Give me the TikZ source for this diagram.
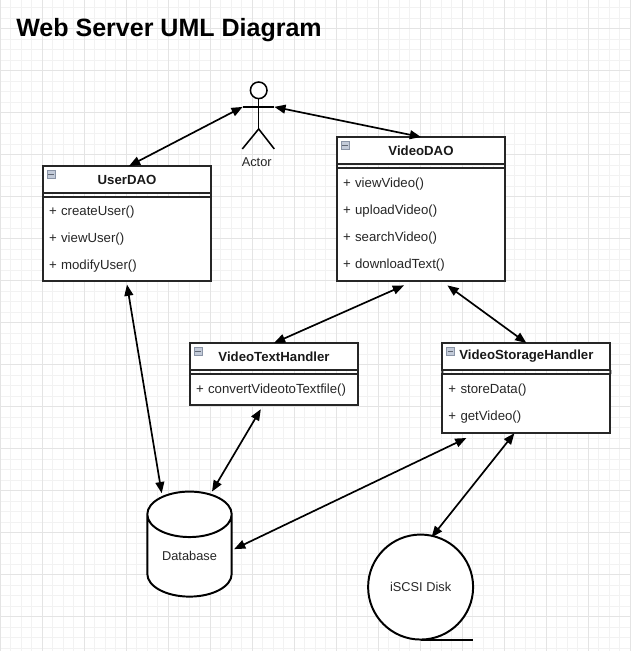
\documentclass[tikz,border=0pt]{standalone}
\usepackage{fontspec}
\setmainfont{Liberation Sans}
\usetikzlibrary{shapes.geometric, arrows.meta, positioning, calc}
\definecolor{gridminor}{HTML}{F2F2F2}
\definecolor{gridmajor}{HTML}{E4E4E4}
\definecolor{iconfill}{HTML}{C3CBD9}
\definecolor{iconline}{HTML}{8A94A6}
\tikzstyle{header} = [rectangle, draw=black!85, line width=1.4pt, outer sep=0pt, fill=white, text=black!90, text centered, minimum width=4.2cm, minimum height=0.675cm, inner ysep=0pt, font=\fontsize{9.4}{11}\selectfont\bfseries]
\tikzstyle{methods} = [rectangle, draw=black!85, line width=1.4pt, outer sep=0pt, fill=white, text=black!85, align=left, text width=3.9cm, inner xsep=0.15cm, inner ysep=0pt, font=\fontsize{9.4}{19.2}\selectfont]
\tikzstyle{icon} = [rectangle, draw=iconline, line width=0.5pt, fill=iconfill, minimum size=0.2cm, inner sep=0pt]
\tikzstyle{caption} = [text=black!85, font=\fontsize{9.1}{11}\selectfont, inner sep=0pt]
\tikzstyle{link} = [line width=1.2pt, <->, >={Triangle[length=0.28cm,width=0.22cm]}, black]
\tikzstyle{stick} = [line width=1.1pt, black]

\begin{document}
\begin{tikzpicture}
	\useasboundingbox (0,0) rectangle (15.775,-16.275);

	% Grid paper
	\draw[gridminor, line width=0.6pt, step=0.2625, shift={(0.0075,-0.7175)}] (-0.0075,0.7175) grid (15.7675,-15.5575);
	\draw[gridmajor, line width=0.6pt, step=1.05, shift={(0.0075,-0.7175)}] (-0.0075,0.7175) grid (15.7675,-15.5575);

	% Title
	\node (title) [anchor=west, inner sep=0pt, font=\fontsize{17.8}{20}\selectfont\bfseries] at (0.4,-0.75) {Web Server UML Diagram};

	% Class boxes
	\node (videodao) [header] at (10.525,-3.7625) {VideoDAO};
	\node (videodao_methods) [methods, below=0.1cm of videodao, minimum height=2.835cm] {+ viewVideo()\\+ uploadVideo()\\+ searchVideo()\\+ downloadText()};
	\node (userdao) [header, below left=0.05cm and 3.15cm of videodao] {UserDAO};
	\node (userdao_methods) [methods, below=0.1cm of userdao, minimum height=2.11cm] {+ createUser()\\+ viewUser()\\+ modifyUser()};
	\node (texthandler) [header, below right=1.54cm and -0.525cm of userdao_methods] {VideoTextHandler};
	\node (texthandler_methods) [methods, below=0.1cm of texthandler, minimum height=0.78cm] {+ convertVideotoTextfile()};
	\node (storage) [header, right=2.11cm of texthandler] {VideoStorageHandler};
	\node (storage_methods) [methods, below=0.1cm of storage, minimum height=1.48cm] {+ storeData()\\+ getVideo()};

	% Double line sides
	\draw[line width=1.4pt, black!85] (videodao.south west) -- (videodao_methods.north west);
	\draw[line width=1.4pt, black!85] (videodao.south east) -- (videodao_methods.north east);
	\draw[line width=1.4pt, black!85] (userdao.south west) -- (userdao_methods.north west);
	\draw[line width=1.4pt, black!85] (userdao.south east) -- (userdao_methods.north east);
	\draw[line width=1.4pt, black!85] (texthandler.south west) -- (texthandler_methods.north west);
	\draw[line width=1.4pt, black!85] (texthandler.south east) -- (texthandler_methods.north east);
	\draw[line width=1.4pt, black!85] (storage.south west) -- (storage_methods.north west);
	\draw[line width=1.4pt, black!85] (storage.south east) -- (storage_methods.north east);

	% Collapse icons
	\node (videodao_icon) [icon, below right=0.1cm and 0.09cm of videodao.north west] {};
	\node (userdao_icon) [icon, below right=0.1cm and 0.09cm of userdao.north west] {};
	\node (texthandler_icon) [icon, below right=0.1cm and 0.09cm of texthandler.north west] {};
	\node (storage_icon) [icon, below right=0.1cm and 0.09cm of storage.north west] {};
	\draw[iconline!70!black, line width=0.7pt] ([xshift=0.04cm]videodao_icon.west) -- ([xshift=-0.04cm]videodao_icon.east);
	\draw[iconline!70!black, line width=0.7pt] ([xshift=0.04cm]userdao_icon.west) -- ([xshift=-0.04cm]userdao_icon.east);
	\draw[iconline!70!black, line width=0.7pt] ([xshift=0.04cm]texthandler_icon.west) -- ([xshift=-0.04cm]texthandler_icon.east);
	\draw[iconline!70!black, line width=0.7pt] ([xshift=0.04cm]storage_icon.west) -- ([xshift=-0.04cm]storage_icon.east);

	% Actor
	\node (actor_head) [circle, draw, line width=1.1pt, fill=white, minimum size=0.415cm, inner sep=0pt] at (6.4675,-2.2575) {};
	\coordinate (actor_left) at ($(actor_head.south)+(-0.4,-0.1875)$);
	\coordinate (actor_right) at ($(actor_head.south)+(0.39,-0.1875)$);
	\coordinate (actor_hip) at ($(actor_head.south)+(0,-0.74)$);
	\coordinate (actor_footl) at ($(actor_hip)+(-0.41,-0.5)$);
	\coordinate (actor_footr) at ($(actor_hip)+(0.39,-0.5)$);
	\draw[stick] (actor_head) -- (actor_hip);
	\draw[stick] (actor_left) -- (actor_right);
	\draw[stick] (actor_footl) -- (actor_hip) -- (actor_footr);
	\node (actor) [caption, below=0.2cm of actor_hip, yshift=-0.5cm, xshift=-0.05cm] {Actor};

	% Database and disk
	\node (database) [cylinder, shape border rotate=90, draw, line width=1.4pt, fill=white, aspect=0.83, minimum width=2.11cm, minimum height=2.625cm, outer sep=0pt, inner sep=0pt, caption, below=2.16cm of texthandler_methods, xshift=-2.1125cm] {Database};
	\node (disk) [circle, draw, line width=1.4pt, fill=white, minimum size=2.625cm, outer sep=0pt, inner sep=0pt, caption, right=3.41cm of database, yshift=-0.7775cm] {iSCSI Disk};
	\draw[line width=1.4pt] (disk.south) -- ++(1.315,0);

	% Arrows
	\draw[link] ([xshift=0.05cm]userdao.north) -- (actor_left);
	\draw[link] (actor_right) -- (videodao.north);
	\draw[link] ([yshift=-0.08cm]userdao_methods.south) -- ([xshift=-0.695cm,yshift=-0.04cm]database.north);
	\draw[link] ([xshift=-0.425cm,yshift=-0.1cm]videodao_methods.south) -- (texthandler.north);
	\draw[link] ([xshift=0.66cm,yshift=-0.1cm]videodao_methods.south) -- (storage.north);
	\draw[link] ([xshift=-0.33cm,yshift=-0.1cm]texthandler_methods.south) -- ([xshift=0.5625cm]database.north);
	\draw[link] ([xshift=-1.5cm,yshift=-0.12cm]storage_methods.south) -- ([xshift=0.06cm,yshift=0.17cm]database.east);
	\draw[link] ([xshift=-0.3cm]storage_methods.south) -- ([yshift=-0.04cm]disk.78);

\end{tikzpicture}
\end{document}
